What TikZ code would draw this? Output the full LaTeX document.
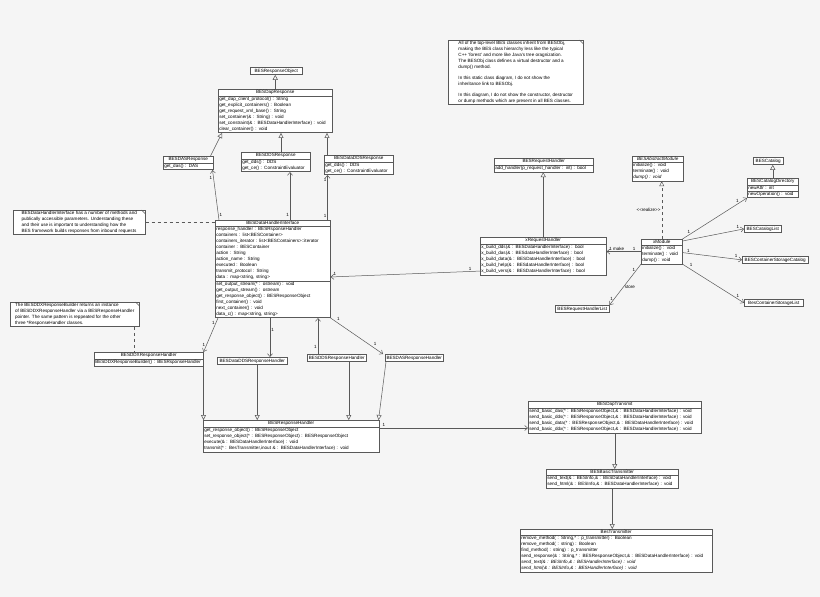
\documentclass[tikz,border=0pt]{standalone}
\usepackage{fontspec}
\setmainfont{Liberation Sans}
\usetikzlibrary{shapes.multipart,arrows.meta}

\definecolor{bgcol}{rgb}{0.96,0.96,0.96}
\definecolor{linecol}{rgb}{0.35,0.35,0.35}
\newcommand{\ctitle}[1]{\hbox to \hsize{\hfil#1\hfil}}

\tikzset{
    cls/.style={draw=linecol, fill=white, line width=0.5pt, rectangle split, rectangle split parts=2,
        anchor=north west, inner xsep=1pt, inner ysep=1pt, align=left},
    cls3/.style={cls, rectangle split parts=3},
    box/.style={draw=linecol, fill=white, line width=0.5pt, anchor=north west, inner xsep=1pt, inner ysep=1.5pt, align=center},
    note/.style={draw=linecol, fill=white, line width=0.5pt, anchor=north west, inner xsep=1pt, inner ysep=1pt, align=left},
    inh/.style={draw=linecol, -{Triangle[open,length=5pt,width=5pt]}},
    assoc/.style={draw=linecol, -{Straight Barb[length=3pt,width=5pt]}},
    mult/.style={font=\fontsize{4.5}{5}\selectfont, inner sep=1pt}
}

\begin{document}
\begin{tikzpicture}[x=1pt, y=-1pt, font=\fontsize{4.6}{6}\selectfont, line width=0.5pt]
    \fill[bgcol] (0,0) rectangle (820,597);
    \useasboundingbox (0,0) rectangle (820,597);

    % response objects
    \node[box, minimum width=52pt] (resobj) at (250,67) {BESResponseObject};
    \node[cls, text width=112pt] (dapr) at (218,89) {\ctitle{BESDapResponse}
        \nodepart{second} get\_dap\_client\_protocol() : String\\
        get\_explicit\_containers() : Boolean\\
        get\_request\_xml\_base() : String\\
        set\_container(\& : String) : void\\
        set\_constraint(\& : BESDataHandlerInterface) : void\\
        clear\_container() : void};
    \node[cls, text width=48pt] (dasr) at (163,156) {\ctitle{BESDASResponse}
        \nodepart{second} get\_das() : DAS};
    \node[cls, text width=67pt] (ddsr) at (241,152) {\ctitle{BESDDSResponse}
        \nodepart{second} get\_dds() : DDS\\ get\_ce() : ConstraintEvaluator};
    \node[cls, text width=67pt] (dataddsr) at (324,155) {\ctitle{BESDataDDSResponse}
        \nodepart{second} get\_dds() : DDS\\ get\_ce() : ConstraintEvaluator};

    % data handler interface
    \node[cls3, text width=113pt] (iface) at (215,220) {\ctitle{BESDataHandlerInterface}
        \nodepart{second} response\_handler : BESRsponseHandler\\
        containers : list<BESContainer>\\
        containers\_iterator : list<BESContainers>::iterator\\
        container : BESContainer\\
        action : String\\
        action\_name : String\\
        executed : Boolean\\
        transmit\_protocol : String\\
        data : map<string, string>
        \nodepart{third} set\_output\_stream(* : ostream) : void\\
        get\_output\_stream() : ostream\\
        get\_response\_object() : BESResponseObject\\
        first\_container() : void\\
        next\_container() : void\\
        data\_c() : map<string, string>};

    % notes
    \node[note, minimum width=132pt] (note1) at (13,210) {BESDataHandlerInterface has a number of methods and\\
        publically accessible parameters. Understanding these\\
        and their use is important to understanding how the\\
        BES framework builds responses from inbound requests};
    \node[note, minimum width=129pt] (note2) at (10,302) {The BESDDXResponseBuilder returns an instance\\
        of BESDDXResponseHandler via a BESResponseHandler\\
        pointer. The same pattern is reppeated for the other\\
        three *ResponseHandler classes.};
    \node[note, minimum width=135pt] (note3) at (448,40) {All of the top-level BES classes inherit from BESObj,\\
        making the BES class hierarchy less like the typical\\
        C++ `forest' and more like Java's tree oragnization.\\
        The BESObj class defines a virtual destructor and a\\
        dump() method.\\[5pt]
        In this static class diagram, I do not show the\\
        inheritance link to BESObj.\\[5pt]
        In this diagram, I do not show the constructor, destructor\\
        or dump methods which are present in all BES classes.};
    \foreach \n in {note1,note2,note3}
        \draw[linecol] ([xshift=-4pt]\n.north east) -- ([yshift=-4pt]\n.north east);

    % response handlers
    \node[cls, text width=107pt] (ddxh) at (94,352) {\ctitle{BESDDXResponseHandler}
        \nodepart{second} BESDDXResponseBuilder() : BESRsponseHandler};
    \node[box, minimum width=70pt] (dataddsh) at (217,357) {BESDataDDSResponseHandler};
    \node[box, minimum width=59pt] (ddsh) at (307,354) {BESDDSResponseHandler};
    \node[box, minimum width=58pt] (dash) at (385,354) {BESDASResponseHandler};
    \node[cls, text width=174pt] (resh) at (203,420) {\ctitle{BESResponseHandler}
        \nodepart{second} get\_response\_object() : BESResponseObject\\
        set\_response\_object(* : BESResponseObject) : BESResponseObject\\
        execute(\& : BESDataHandlerInterface) : void\\
        transmit(* : BesTransmitter,inout \& : BESDataHandlerInterface) : void};

    % request handlers and modules
    \node[cls, text width=97pt] (reqh) at (494,158) {\ctitle{BESRequestHandler}
        \nodepart{second} add\_handler(p\_request\_handler : int) : bool};
    \node[cls, text width=124pt] (xreqh) at (480,237) {\ctitle{xRequestHandler}
        \nodepart{second} x\_build\_dds(\& : BESDataHandlerInterface) : bool\\
        x\_build\_das(\& : BESdataHandlerInterface) : bool\\
        x\_build\_data(\& : BESDataHandlerInterface) : bool\\
        x\_build\_help(\& : BESdataHandlerInterface) : bool\\
        x\_build\_vers(\& : BESDataHandlerInterface) : bool};
    \node[cls, text width=49pt] (absmod) at (632,156) {\ctitle{\itshape BESAbstractModule}
        \nodepart{second} initialize() : void\\ terminate() : void\\ \textit{dump() : void}};
    \node[cls, text width=39pt] (xmod) at (641,239) {\ctitle{xModule}
        \nodepart{second} initialize() : void\\ terminate() : void\\ dump() : void};
    \node[box, minimum width=30pt] (catalog) at (753,157) {BESCatalog};
    \node[cls3, text width=49pt] (catdir) at (747,178) {\ctitle{BESCatalogDirectory}
        \nodepart{second} newAttr : int
        \nodepart{third} newOperation() : void};
    \node[box, minimum width=37pt] (catlist) at (744,225) {BESCatalogList};
    \node[box, minimum width=66pt] (cscat) at (742,256) {BESContainerStorageCatalog};
    \node[box, minimum width=59pt] (cslist) at (744,299) {BesContainerStorageList};
    \node[box, minimum width=54pt] (rhlist) at (555,305) {BESRequestHandlerList};

    % transmitters
    \node[cls, text width=171pt] (daptx) at (528,401) {\ctitle{BESDapTransmit}
        \nodepart{second} send\_basic\_das(* : BESResponseObject,\& : BESDataHandlerInterface) : void\\
        send\_basic\_dds(* : BESResponseObject,\& : BESDataHandlerInterface) : void\\
        send\_basic\_data(* : BESResponseObject,\& : BESDataHandlerInterface) : void\\
        send\_basic\_ddx(* : BESResponseObject,\& : BESDataHandlerInterface) : void};
    \node[cls, text width=130pt] (basictx) at (546,469) {\ctitle{BESBasicTransmitter}
        \nodepart{second} send\_text(\& : BESInfo,\& : BESDataHandlerInterface) : void\\
        send\_html(\& : BESInfo,\& : BESDataHandlerInterface) : void};
    \node[cls, text width=190pt] (bestx) at (520,529) {\ctitle{BesTransmitter}
        \nodepart{second} remove\_method( : String,* : p\_transmitter) : Boolean\\
        remove\_method( : string) : Boolean\\
        find\_method( : string) : p\_transmitter\\
        send\_response(\& : String,* : BESResponseObject,\& : BESDataHandlerInterface) : void\\
        \textit{send\_text(\& : BESInfo,\& : BESHandlerInterface) : void}\\
        \textit{send\_html(\& : BESInfo,\& : BESHandlerInterface) : void}};

    % inheritance
    \path[inh] (dapr.north) -- (dapr.north |- resobj.south);
    \path[inh] ([xshift=-3pt]dasr.north east) -- ([xshift=4pt]dapr.south west);
    \path[inh] ([xshift=40pt]ddsr.north west) -- ([xshift=40pt]ddsr.north west |- dapr.south);
    \path[inh] ([xshift=3pt]dataddsr.north west) -- ([xshift=3pt]dataddsr.north west |- dapr.south);
    \path[inh] (ddxh.north east) -- (ddxh.north east |- resh.north);
    \path[inh] ([xshift=5pt]dataddsh.south) -- ([xshift=5pt]dataddsh.south |- resh.north);
    \path[inh] ([xshift=12pt]ddsh.south) -- ([xshift=12pt]ddsh.south |- resh.north);
    \path[inh] ([xshift=1pt]dash.south west) -- ([xshift=-1pt]resh.north east);
    \path[inh] (xreqh.north) -- (xreqh.north |- reqh.south);
    \path[inh] (catdir.north) -- (catdir.north |- catalog.south);
    \path[inh] (daptx.south) -- (daptx.south |- basictx.north);
    \path[inh] (basictx.south) -- (basictx.south |- bestx.north);
    \path[inh, dashed] (xmod.north) -- node[left, mult] {{<}{<}realize{>}{>}} (xmod.north |- absmod.south);

    % notes to classes
    \draw[linecol, dashed] (note1.east) -- (note1.east -| iface.west);
    \draw[linecol, dashed] ([xshift=-5pt]note2.south east) -- ([xshift=-5pt]note2.south east |- ddxh.north);

    % associations
    \path[assoc] ([xshift=4pt]iface.north west) -- node[pos=0.1, right, mult] {1} node[pos=0.85, left, mult] {1} ([xshift=-1pt]dasr.south east);
    \path[assoc] ([xshift=75pt]iface.north west) -- node[pos=0.1, left, mult] {1} ([xshift=75pt]iface.north west |- ddsr.south);
    \path[assoc] ([xshift=-3pt]iface.north east) -- node[pos=0.1, left, mult] {1} node[pos=0.9, left, mult] {1} ([xshift=-3pt]iface.north east |- dataddsr.south);
    \path[assoc] ([xshift=3pt]iface.south west) -- node[pos=0.15, left, mult] {1} node[pos=0.8, left, mult] {1} (ddxh.north east);
    \path[assoc] ([xshift=55pt]iface.south west) -- node[pos=0.3, right, mult] {1} ([xshift=55pt]iface.south west |- dataddsh.north);
    \path[assoc] ([xshift=103pt]iface.south west |- ddsh.north) -- node[pos=0.2, left, mult] {1} ([xshift=103pt]iface.south west);
    \path[assoc] (iface.south east) -- node[pos=0.1, above right, mult] {1} node[pos=0.8, above right, mult] {1} ([xshift=-2pt]dash.north west);
    \path[assoc] ([yshift=4pt]xreqh.south west) -- node[pos=0.05, above left, mult] {1} node[pos=0.97, above, mult] {1} ([yshift=-8pt]iface.east);
    \path[assoc] ([yshift=-8pt]resh.north east) -- node[pos=0.03, above, mult] {1} ([yshift=-8pt]resh.north east -| daptx.west);
    \path[assoc] (xmod.west) -- node[pos=0.2, above, mult] {1} node[pos=0.7, above, mult] {1 make} (xmod.west -| xreqh.east);
    \path[assoc] (xmod.south west) -- node[pos=0.15, left, mult] {1} node[pos=0.55, right, mult] {store} node[pos=0.85, left, mult] {1} (rhlist.north east);
    \path[assoc] (xmod.north east) -- node[pos=0.1, above, mult] {1} node[pos=0.85, above, mult] {1} (catdir.south west);
    \path[assoc] ([yshift=-2pt]xmod.north east) -- node[pos=0.9, above, mult] {1} (catlist.west);
    \path[assoc] ([yshift=-1pt]xmod.east) -- node[pos=0.1, above, mult] {1} node[pos=0.9, above, mult] {1} (cscat.west);
    \path[assoc] (xmod.south east) -- node[pos=0.1, above right, mult] {1} node[pos=0.9, above, mult] {1} (cslist.west);
\end{tikzpicture}
\end{document}
